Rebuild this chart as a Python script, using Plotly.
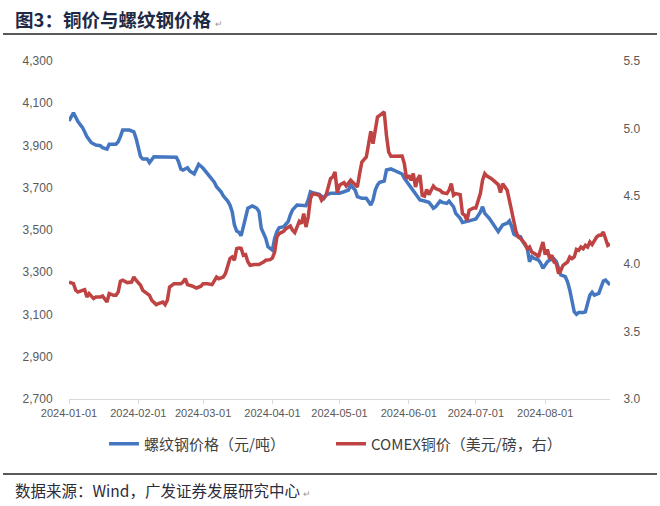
import plotly.graph_objects as go

rebar_dates = ["2024-01-01","2024-01-03","2024-01-05","2024-01-07","2024-01-08","2024-01-09","2024-01-11","2024-01-12","2024-01-13","2024-01-15","2024-01-16","2024-01-18","2024-01-19","2024-01-22","2024-01-23","2024-01-24","2024-01-25","2024-01-28","2024-01-30","2024-01-31",
"2024-02-01","2024-02-02","2024-02-03","2024-02-05","2024-02-06","2024-02-07","2024-02-08","2024-02-18","2024-02-19","2024-02-20","2024-02-21","2024-02-23","2024-02-24","2024-02-26","2024-02-27","2024-02-28",
"2024-03-01","2024-03-03","2024-03-04","2024-03-06","2024-03-07","2024-03-09","2024-03-10","2024-03-12","2024-03-13","2024-03-14","2024-03-15","2024-03-16","2024-03-17","2024-03-18","2024-03-19","2024-03-20","2024-03-21","2024-03-23","2024-03-25","2024-03-26","2024-03-27","2024-03-29","2024-03-30",
"2024-04-01","2024-04-02","2024-04-03","2024-04-04","2024-04-06","2024-04-08","2024-04-09","2024-04-10","2024-04-12","2024-04-13","2024-04-16","2024-04-17","2024-04-18","2024-04-19","2024-04-22","2024-04-24","2024-04-25","2024-04-27",
"2024-05-01","2024-05-03","2024-05-05","2024-05-06","2024-05-08","2024-05-09","2024-05-11","2024-05-13","2024-05-14","2024-05-15","2024-05-16","2024-05-17","2024-05-18","2024-05-19","2024-05-21","2024-05-22","2024-05-24","2024-05-27","2024-05-29","2024-05-30",
"2024-06-01","2024-06-03","2024-06-05","2024-06-06","2024-06-08","2024-06-10","2024-06-11","2024-06-12","2024-06-13","2024-06-15","2024-06-16","2024-06-18","2024-06-19","2024-06-21","2024-06-22","2024-06-24","2024-06-25","2024-06-27","2024-06-28",
"2024-07-01","2024-07-03","2024-07-04","2024-07-05","2024-07-07","2024-07-08","2024-07-10","2024-07-11","2024-07-12","2024-07-13","2024-07-15","2024-07-16","2024-07-17","2024-07-18","2024-07-19","2024-07-21","2024-07-22","2024-07-24","2024-07-25","2024-07-26","2024-07-27","2024-07-29","2024-07-30","2024-07-31",
"2024-08-02","2024-08-03","2024-08-05","2024-08-06","2024-08-07","2024-08-08","2024-08-10","2024-08-11","2024-08-12","2024-08-13","2024-08-14","2024-08-15","2024-08-16","2024-08-18","2024-08-19","2024-08-20","2024-08-21","2024-08-22","2024-08-23","2024-08-25","2024-08-26","2024-08-27","2024-08-28","2024-08-29","2024-08-30"]
rebar_values = [4016,4055,4013,3986,3965,3942,3913,3907,3902,3899,3890,3883,3906,3906,3918,3942,3973,3973,3965,3934,
3894,3847,3836,3836,3819,3836,3847,3844,3823,3789,3784,3795,3779,3765,3784,3811,
3792,3765,3752,3726,3705,3681,3662,3637,3618,3587,3524,3495,3489,3473,3516,3565,3603,3614,3603,3587,3508,3461,3421,
3405,3461,3492,3511,3516,3539,3571,3595,3618,3618,3615,3642,3681,3677,3669,3650,3666,3674,
3674,3681,3689,3713,3689,3658,3650,3650,3634,3618,3642,3689,3713,3726,3732,3784,3789,3776,3765,3745,
3716,3689,3658,3642,3637,3631,3618,3603,3610,3637,3631,3626,3637,3610,3579,3555,3536,3543,3543,
3552,3584,3610,3579,3555,3539,3508,3492,3508,3524,3532,3543,3516,3480,3473,3468,3445,3413,3350,3374,3366,3358,3342,3319,
3350,3358,3363,3350,3319,3287,3279,3255,3216,3161,3113,3101,3110,3110,3113,3153,3192,3205,3192,3200,3232,3258,3263,3252,3240]

copper_dates = ["2024-01-01","2024-01-03","2024-01-04","2024-01-05","2024-01-07","2024-01-08","2024-01-09","2024-01-10","2024-01-12","2024-01-13","2024-01-15","2024-01-16","2024-01-18","2024-01-19","2024-01-21","2024-01-22","2024-01-23","2024-01-24","2024-01-25","2024-01-27","2024-01-29","2024-01-30","2024-01-31",
"2024-02-02","2024-02-03","2024-02-04","2024-02-06","2024-02-07","2024-02-09","2024-02-10","2024-02-12","2024-02-13","2024-02-14","2024-02-15","2024-02-17","2024-02-20","2024-02-21","2024-02-22","2024-02-23","2024-02-25","2024-02-27","2024-02-29",
"2024-03-01","2024-03-03","2024-03-05","2024-03-07","2024-03-08","2024-03-10","2024-03-11","2024-03-13","2024-03-14","2024-03-15","2024-03-16","2024-03-17","2024-03-18","2024-03-19","2024-03-20","2024-03-21","2024-03-22","2024-03-24","2024-03-26","2024-03-28","2024-03-29","2024-03-31",
"2024-04-01","2024-04-02","2024-04-03","2024-04-04","2024-04-06","2024-04-07","2024-04-09","2024-04-10","2024-04-11","2024-04-12","2024-04-13","2024-04-14","2024-04-15","2024-04-16","2024-04-17","2024-04-18","2024-04-19","2024-04-22","2024-04-23","2024-04-25","2024-04-26","2024-04-27","2024-04-28","2024-04-29","2024-04-30",
"2024-05-01","2024-05-03","2024-05-04","2024-05-06","2024-05-07","2024-05-09","2024-05-10","2024-05-11","2024-05-13","2024-05-14","2024-05-15","2024-05-16","2024-05-17","2024-05-18","2024-05-19","2024-05-21","2024-05-22","2024-05-23","2024-05-24","2024-05-26","2024-05-29","2024-05-30","2024-05-31",
"2024-06-01","2024-06-02","2024-06-03","2024-06-04","2024-06-05","2024-06-06","2024-06-07","2024-06-08","2024-06-09","2024-06-10","2024-06-12","2024-06-13","2024-06-15","2024-06-16","2024-06-18","2024-06-19","2024-06-20","2024-06-21","2024-06-22","2024-06-24","2024-06-25","2024-06-26","2024-06-27","2024-06-28","2024-06-30",
"2024-07-01","2024-07-03","2024-07-04","2024-07-05","2024-07-06","2024-07-08","2024-07-10","2024-07-11","2024-07-12","2024-07-13","2024-07-14","2024-07-15","2024-07-16","2024-07-17","2024-07-19","2024-07-20","2024-07-21","2024-07-23","2024-07-24","2024-07-25","2024-07-26","2024-07-28","2024-07-29","2024-07-30","2024-07-31",
"2024-08-01","2024-08-02","2024-08-03","2024-08-04","2024-08-05","2024-08-06","2024-08-07","2024-08-08","2024-08-09","2024-08-11","2024-08-12","2024-08-13","2024-08-14","2024-08-15","2024-08-16","2024-08-17","2024-08-18","2024-08-19","2024-08-20","2024-08-21","2024-08-22","2024-08-24","2024-08-25","2024-08-26","2024-08-27","2024-08-28","2024-08-29","2024-08-30"]
copper_values = [3.865,3.853,3.804,3.791,3.804,3.809,3.754,3.780,3.743,3.754,3.754,3.762,3.717,3.780,3.767,3.767,3.791,3.871,3.878,3.861,3.865,3.902,3.878,
3.841,3.804,3.791,3.767,3.730,3.698,3.706,3.717,3.698,3.730,3.828,3.853,3.853,3.865,3.890,3.846,3.836,3.821,3.834,
3.853,3.853,3.846,3.902,3.890,3.902,3.928,4.038,4.050,4.026,4.112,4.117,4.115,4.063,4.068,4.015,3.989,3.994,3.994,4.013,4.026,4.031,
4.043,4.087,4.198,4.223,4.240,4.260,4.280,4.248,4.231,4.272,4.314,4.297,4.371,4.272,4.346,4.482,4.519,4.507,4.470,4.507,4.568,4.630,4.642,4.679,4.527,
4.581,4.601,4.575,4.618,4.601,4.568,4.667,4.753,4.790,4.901,4.980,4.889,5.000,5.086,5.098,5.123,4.950,4.827,4.795,4.797,4.797,4.741,4.630,
4.655,4.618,4.667,4.568,4.630,4.655,4.507,4.500,4.550,4.512,4.575,4.556,4.544,4.527,4.519,4.544,4.593,4.507,4.519,4.512,4.371,4.359,4.322,4.396,4.413,
4.413,4.519,4.618,4.667,4.649,4.630,4.601,4.586,4.527,4.593,4.568,4.544,4.470,4.383,4.235,4.198,4.186,4.149,4.112,4.124,4.087,4.068,4.050,4.107,4.161,
4.068,4.107,4.038,4.063,4.013,4.001,3.928,3.952,3.989,4.013,4.050,4.038,4.050,4.107,4.100,4.124,4.112,4.137,4.124,4.161,4.142,4.198,4.211,4.211,4.235,4.181,4.137,4.148]

left_ticks = [2700, 2900, 3100, 3300, 3500, 3700, 3900, 4100, 4300]
right_ticks = [3.0, 3.5, 4.0, 4.5, 5.0, 5.5]

rebar_name = "螺纹钢价格（元/吨）"
copper_name = "COMEX铜价（美元/磅，右）"
title_text = "图3：铜价与螺纹钢价格"
source_text = "数据来源：Wind，广发证券发展研究中心"

BLUE = "#4577C0"
RED = "#BE4342"
TICKC = "#595959"

fig = go.Figure()
fig.add_trace(go.Scatter(x=rebar_dates, y=rebar_values, name=rebar_name, mode="lines",
                         line=dict(color=BLUE, width=3.5), yaxis="y"))
fig.add_trace(go.Scatter(x=copper_dates, y=copper_values, name=copper_name, mode="lines",
                         line=dict(color=RED, width=3.5), yaxis="y2"))

W, H = 660, 506
L, R, T, B = 69, 50, 61, 107
pw, ph = W - L - R, H - T - B

def px_x(x):
    return (x - L) / pw

def px_y(y):
    return (H - B - y) / ph

fig.update_layout(
    width=W, height=H,
    margin=dict(l=L, r=R, t=T, b=B),
    paper_bgcolor="white", plot_bgcolor="white",
    font=dict(family="Liberation Sans, Arial, sans-serif", color=TICKC),
    title=dict(text=f"<b>{title_text}</b> <span style='font-size:9px;color:#9a9a9a'>↵</span>",
               x=15 / W, xanchor="left", xref="container",
               y=1 - 21 / H, yanchor="middle", yref="container",
               font=dict(family="Noto Sans CJK SC", size=18.5, color="#1E2A45")),
    xaxis=dict(type="date", range=["2024-01-01", "2024-08-30"],
               tick0="2024-01-01", dtick="M1", tickformat="%Y-%m-%d",
               showgrid=False, zeroline=False,
               showline=True, linecolor="#D9D9D9", linewidth=1.3,
               ticks="outside", ticklen=4, tickcolor="#D9D9D9",
               tickfont=dict(size=11, color=TICKC, family="Liberation Sans, Arial")),
    yaxis=dict(range=[2700, 4300], tickvals=left_ticks, tickformat=",d",
               showgrid=False, zeroline=False, showline=False,
               ticks="outside", ticklen=13, tickcolor="rgba(0,0,0,0)",
               tickfont=dict(size=12, color=TICKC, family="Liberation Sans, Arial")),
    yaxis2=dict(range=[3.0, 5.5], tickvals=right_ticks, tickformat=".1f",
                overlaying="y", side="right",
                showgrid=False, zeroline=False, showline=False,
                ticks="outside", ticklen=10, tickcolor="rgba(0,0,0,0)",
                tickfont=dict(size=12, color=TICKC, family="Liberation Sans, Arial")),
    showlegend=True,
    legend=dict(orientation="h", x=px_x(104), xanchor="left", y=px_y(444), yanchor="middle",
                entrywidth=182, entrywidthmode="pixels",
                font=dict(family="Noto Sans CJK SC", size=15, color="#404040"),
                bgcolor="rgba(0,0,0,0)"),
    shapes=[
        dict(type="line", xref="paper", yref="paper", x0=px_x(3), x1=px_x(657),
             y0=px_y(34), y1=px_y(34), line=dict(color="#222222", width=1.5)),
        dict(type="line", xref="paper", yref="paper", x0=px_x(3), x1=px_x(657),
             y0=px_y(474), y1=px_y(474), line=dict(color="#222222", width=1.5)),
    ],
    annotations=[
        dict(text=f"{source_text} <span style='font-size:9px;color:#9a9a9a'>↵</span>",
             xref="paper", yref="paper", x=px_x(13), y=px_y(490),
             xanchor="left", yanchor="middle", showarrow=False,
             font=dict(family="Noto Sans CJK SC", size=15.5, color="#2B2B3B")),
    ],
)

fig.write_html("out.html", config={"displayModeBar": False},
               post_script="document.body.style.margin='0px';")
